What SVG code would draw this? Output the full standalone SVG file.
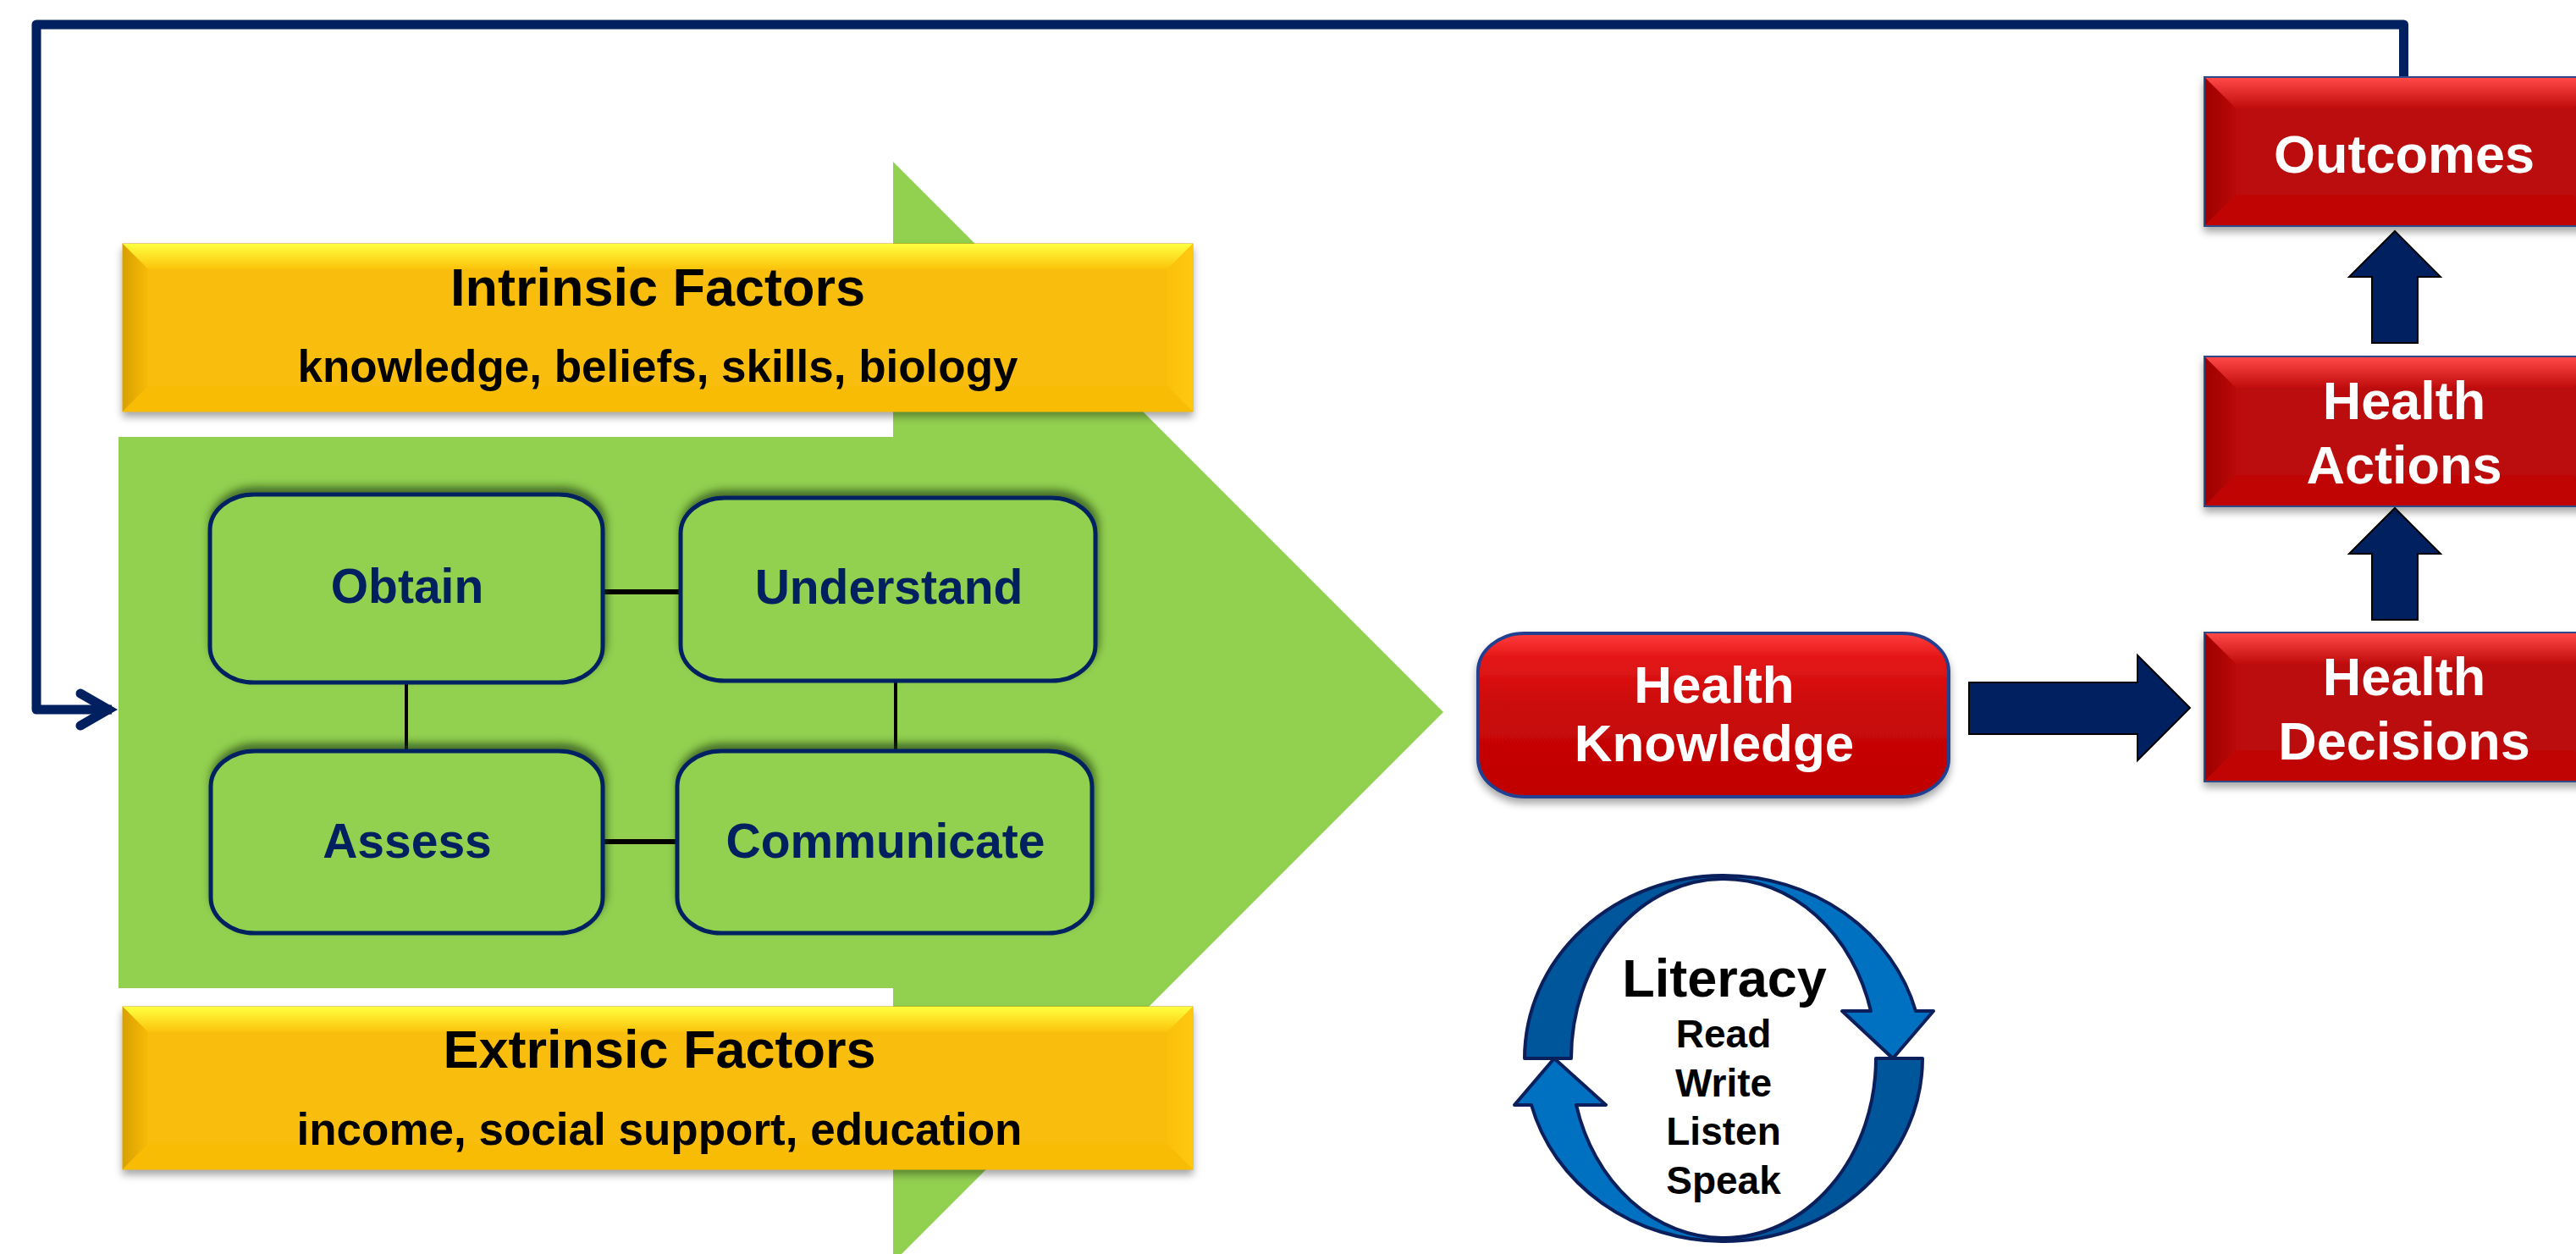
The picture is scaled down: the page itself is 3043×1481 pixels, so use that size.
<svg xmlns="http://www.w3.org/2000/svg" width="3043" height="1481" viewBox="0 0 3043 1481">
<defs>
<style>
.t{font-family:"Liberation Sans",Arial,sans-serif;font-weight:bold;text-anchor:middle}
.title{font-size:63px;fill:#000}
.sub{font-size:53px;fill:#000}
.gtxt{font-size:57px;fill:#002060}
.rtxt{font-size:63px;fill:#fff}
.hk{font-size:62px;fill:#fff}
.lit{font-size:63px;fill:#000}
.lit2{font-size:46px;fill:#000}
.gbox{fill:#92D050;stroke:#002060;stroke-width:5}
.link{stroke:#000;fill:none}
.block{fill:#002060;stroke:#000;stroke-width:2;stroke-linejoin:miter}
.ring{stroke:#0A1F5C;stroke-width:4;stroke-linejoin:round}
.dark{fill:#00569A}
.light{fill:#0070C0}
</style>
<linearGradient id="yTop" x1="0" y1="0" x2="0" y2="1"><stop offset="0" stop-color="#FFFF40"/><stop offset="1" stop-color="#FBC30B"/></linearGradient>
<linearGradient id="yLeft" x1="0" y1="0" x2="1" y2="0"><stop offset="0" stop-color="#D9A000"/><stop offset="1" stop-color="#F6BB08"/></linearGradient>
<linearGradient id="yRight" x1="0" y1="0" x2="1" y2="0"><stop offset="0" stop-color="#FBC10A"/><stop offset="1" stop-color="#FFC810"/></linearGradient>
<linearGradient id="rTop" x1="0" y1="0" x2="0" y2="1"><stop offset="0" stop-color="#FF4848"/><stop offset="1" stop-color="#C00C0C"/></linearGradient>
<linearGradient id="rLeft" x1="0" y1="0" x2="1" y2="0"><stop offset="0" stop-color="#9E0000"/><stop offset="1" stop-color="#BA0808"/></linearGradient>
<linearGradient id="hkFill" x1="0" y1="0" x2="0" y2="1"><stop offset="0" stop-color="#FF3C3C"/><stop offset="0.15" stop-color="#E41616"/><stop offset="0.45" stop-color="#CA0A0A"/><stop offset="1" stop-color="#C00000"/></linearGradient>
<filter id="shDown" x="-5%" y="-20%" width="110%" height="150%"><feDropShadow dx="0" dy="6" stdDeviation="5" flood-color="#000" flood-opacity="0.35"/></filter>
<filter id="shUp" x="-10%" y="-20%" width="120%" height="140%"><feDropShadow dx="2" dy="-7" stdDeviation="5" flood-color="#1E3A0A" flood-opacity="0.65"/></filter>
</defs>

<rect width="3043" height="1481" fill="#fff"/>

<g id="process-arrow">
<polygon points="140,516 1055,516 1055,191 1705,841 1055,1491 1055,1167 140,1167" fill="#92D050"/>
</g>

<g id="connectors">
<path d="M2839.5,91 V29 H43 V838 H132" fill="none" stroke="#002060" stroke-width="11" stroke-linejoin="round"/>
<path d="M95,819 L128,838 L95,857" fill="none" stroke="#002060" stroke-width="11" stroke-linecap="round" stroke-linejoin="miter"/>
<line class="link" x1="712" y1="699" x2="804" y2="699" stroke-width="6"/>
<line class="link" x1="480" y1="806" x2="480" y2="887" stroke-width="4"/>
<line class="link" x1="1058" y1="804" x2="1058" y2="887" stroke-width="4"/>
<line class="link" x1="712" y1="994" x2="800" y2="994" stroke-width="6"/>
<polygon class="block" points="2326,806 2525,806 2525,774 2587,836 2525,898 2525,867 2326,867"/>
<polygon class="block" points="2802,405 2802,327 2775,327 2829,273 2883,327 2856,327 2856,405"/>
<polygon class="block" points="2802,732 2802,654 2775,654 2829,600 2883,654 2856,654 2856,732"/>
</g>

<g id="intrinsic-factors">
<g filter="url(#shDown)">
<rect x="145" y="288" width="1264" height="198" fill="#F9BE09" stroke="#D9A400" stroke-width="1"/>
</g>
<polygon points="145,288 1409,288 1379,318 175,318" fill="url(#yTop)"/>
<polygon points="145,288 175,318 175,456 145,486" fill="url(#yLeft)"/>
<polygon points="1409,288 1379,318 1379,456 1409,486" fill="url(#yRight)"/>
<polygon points="145,486 175,456 1379,456 1409,486" fill="#F8BC05"/>
<text class="t title" x="777" y="361">Intrinsic Factors</text>
<text class="t sub" x="777" y="451">knowledge, beliefs, skills, biology</text>
</g>

<g id="extrinsic-factors">
<g filter="url(#shDown)">
<rect x="145" y="1189" width="1264" height="192" fill="#F9BE09" stroke="#D9A400" stroke-width="1"/>
</g>
<polygon points="145,1189 1409,1189 1379,1219 175,1219" fill="url(#yTop)"/>
<polygon points="145,1189 175,1219 175,1351 145,1381" fill="url(#yLeft)"/>
<polygon points="1409,1189 1379,1219 1379,1351 1409,1381" fill="url(#yRight)"/>
<polygon points="145,1381 175,1351 1379,1351 1409,1381" fill="#F8BC05"/>
<text class="t title" x="779" y="1261">Extrinsic Factors</text>
<text class="t sub" x="779" y="1352">income, social support, education</text>
</g>

<g id="obtain">
<rect class="gbox" x="248" y="584" width="464" height="222" rx="52" ry="42" filter="url(#shUp)"/>
<text class="t gtxt" x="481" y="712">Obtain</text>
</g>
<g id="understand">
<rect class="gbox" x="804" y="588" width="490" height="216" rx="52" ry="42" filter="url(#shUp)"/>
<text class="t gtxt" x="1050" y="713">Understand</text>
</g>
<g id="assess">
<rect class="gbox" x="249" y="887" width="463" height="215" rx="52" ry="42" filter="url(#shUp)"/>
<text class="t gtxt" x="481" y="1013">Assess</text>
</g>
<g id="communicate">
<rect class="gbox" x="800" y="887" width="490" height="215" rx="52" ry="42" filter="url(#shUp)"/>
<text class="t gtxt" x="1046" y="1013">Communicate</text>
</g>

<g id="health-knowledge">
<rect x="1746" y="748" width="556" height="193" rx="55" ry="45" fill="url(#hkFill)" stroke="#203F8F" stroke-width="4" filter="url(#shDown)"/>
<text class="t hk" x="2025" y="830">Health</text>
<text class="t hk" x="2025" y="899">Knowledge</text>
</g>

<g id="health-decisions">
<rect x="2604" y="747" width="472" height="176" fill="#BB0909" stroke="#2F4A8A" stroke-width="2" filter="url(#shDown)"/>
<polygon points="2605,748 3076,748 3040,784 2641,784" fill="url(#rTop)"/>
<polygon points="2605,748 2641,784 2641,886 2605,922" fill="url(#rLeft)"/>
<polygon points="2605,922 2641,886 3040,886 3076,922" fill="#C00404"/>
<text class="t rtxt" x="2840" y="821">Health</text>
<text class="t rtxt" x="2840" y="897">Decisions</text>
</g>

<g id="health-actions">
<rect x="2604" y="421" width="472" height="177" fill="#BB0909" stroke="#2F4A8A" stroke-width="2" filter="url(#shDown)"/>
<polygon points="2605,422 3076,422 3040,458 2641,458" fill="url(#rTop)"/>
<polygon points="2605,422 2641,458 2641,561 2605,597" fill="url(#rLeft)"/>
<polygon points="2605,597 2641,561 3040,561 3076,597" fill="#C00404"/>
<text class="t rtxt" x="2840" y="495">Health</text>
<text class="t rtxt" x="2840" y="571">Actions</text>
</g>

<g id="outcomes">
<rect x="2604" y="91" width="472" height="176" fill="#BB0909" stroke="#2F4A8A" stroke-width="2" filter="url(#shDown)"/>
<polygon points="2605,92 3076,92 3040,128 2641,128" fill="url(#rTop)"/>
<polygon points="2605,92 2641,128 2641,230 2605,266" fill="url(#rLeft)"/>
<polygon points="2605,266 2641,230 3040,230 3076,266" fill="#C00404"/>
<text class="t rtxt" x="2840" y="204">Outcomes</text>
</g>

<g id="literacy">
<path class="ring dark" d="M1801,1250 A235,216 0 0 1 2036,1034 L2036,1038 A180,212 0 0 0 1856,1250 Z"/>
<path class="ring light" d="M2036,1034 A235,216 0 0 1 2263,1194 L2284,1194 L2236,1250 L2176,1194 L2210,1194 A180,212 0 0 0 2036,1038 Z"/>
<path class="ring dark" d="M2271,1250 A235,216 0 0 1 2036,1466 L2036,1462 A180,212 0 0 0 2216,1250 Z"/>
<path class="ring light" d="M2036,1466 A235,216 0 0 1 1809,1305 L1789,1305 L1836,1250 L1897,1305 L1862,1305 A180,212 0 0 0 2036,1462 Z"/>
<text class="t lit" x="2037" y="1177">Literacy</text>
<text class="t lit2" x="2036" y="1237">Read</text>
<text class="t lit2" x="2036" y="1295">Write</text>
<text class="t lit2" x="2036" y="1352">Listen</text>
<text class="t lit2" x="2036" y="1410">Speak</text>
</g>
</svg>
